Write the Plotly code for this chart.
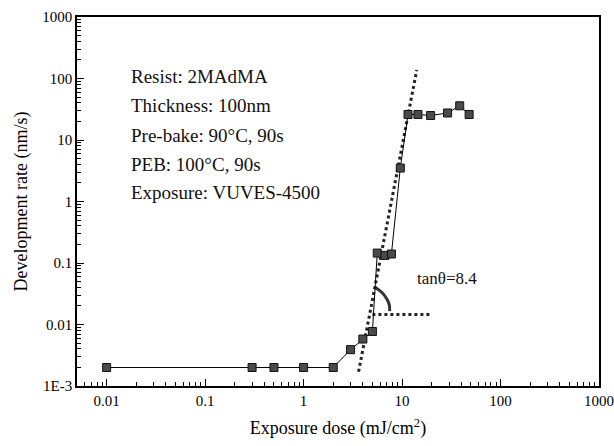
import numpy as np
import plotly.graph_objects as go

# Measured data: exposure dose (mJ/cm^2) vs development rate (nm/s)
dose = [0.01, 0.3, 0.5, 1, 2, 3, 4, 5, 5.6, 6.7, 7.8, 9.6, 11.5, 14.5, 19.5, 29, 38.5, 48]
rate = [0.002, 0.002, 0.002, 0.002, 0.002, 0.0039, 0.0058, 0.0077, 0.145, 0.133, 0.14, 3.5, 26, 26, 25, 27.5, 36, 26]

# Slope (contrast) guide lines
slope_x = [3.62, 14.1]
slope_y = [0.00171, 137]
base_x = [5.0, 20.0]
base_y = [0.0145, 0.0145]
arc_x = [5.31, 6.35, 7.03, 7.43, 7.48]
arc_y = [0.0403, 0.0322, 0.0257, 0.0207, 0.0165]

info_lines = ["Resist: 2MAdMA", "Thickness: 100nm", "Pre-bake: 90°C, 90s",
              "PEB: 100°C, 90s", "Exposure: VUVES-4500"]
info_y = [0.838, 0.759, 0.680, 0.601, 0.524]

x_tickvals = [0.01, 0.1, 1, 10, 100, 1000]
x_ticktext = ["0.01", "0.1", "1", "10", "100", "1000"]
y_tickvals = [0.001, 0.01, 0.1, 1, 10, 100, 1000]
y_ticktext = ["1E-3", "0.01", "0.1", "1", "10", "100", "1000"]

FONT = "Liberation Serif"

fig = go.Figure()
fig.add_trace(go.Scatter(x=slope_x, y=slope_y, mode="lines",
                         line=dict(color="#222", width=3, dash="3px,3px"), hoverinfo="skip"))
fig.add_trace(go.Scatter(x=base_x, y=base_y, mode="lines",
                         line=dict(color="#222", width=3, dash="3px,3px"), hoverinfo="skip"))
fig.add_trace(go.Scatter(x=arc_x, y=arc_y, mode="lines", line_shape="spline",
                         line=dict(color="#333", width=3), hoverinfo="skip"))
fig.add_trace(go.Scatter(x=dose, y=rate, mode="lines+markers",
                         line=dict(color="black", width=1),
                         marker=dict(symbol="square", size=8, color="#4a4a4a",
                                     line=dict(color="#111", width=1))))

minor_x = [m * 10.0 ** d for d in range(-3, 3) for m in range(2, 10)]
minor_y = [m * 10.0 ** d for d in range(-3, 3) for m in range(2, 10)]

fig.update_xaxes(type="log", range=[np.log10(0.005), 3], automargin=False,
                 tickmode="array", tickvals=x_tickvals, ticktext=x_ticktext,
                 ticks="inside", ticklen=7, tickwidth=1.2, tickcolor="black",
                 minor=dict(ticks="inside", ticklen=4, tickwidth=1, tickcolor="black",
                            tickmode="array", tickvals=minor_x),
                 showline=True, linecolor="black", linewidth=1.5, mirror=True,
                 showgrid=False, zeroline=False,
                 tickfont=dict(family=FONT, size=15, color="black"),
                 title=dict(text="Exposure dose (mJ/cm<sup>2</sup>)",
                            font=dict(family=FONT, size=18, color="black"), standoff=14))
fig.update_yaxes(type="log", range=[-3, 3], automargin=False,
                 tickmode="array", tickvals=y_tickvals, ticktext=y_ticktext,
                 ticks="inside", ticklen=7, tickwidth=1.2, tickcolor="black",
                 minor=dict(ticks="inside", ticklen=4, tickwidth=1, tickcolor="black",
                            tickmode="array", tickvals=minor_y),
                 showline=True, linecolor="black", linewidth=1.5, mirror=True,
                 showgrid=False, zeroline=False,
                 tickfont=dict(family=FONT, size=15, color="black"),
                 title=dict(text="Development rate (nm/s)",
                            font=dict(family=FONT, size=18, color="black"), standoff=10))

for txt, yy in zip(info_lines, info_y):
    fig.add_annotation(text=txt, xref="paper", yref="paper", x=0.0996, y=yy,
                       xanchor="left", yanchor="middle", showarrow=False,
                       font=dict(family=FONT, size=19, color="#111"))
fig.add_annotation(text="tanθ=8.4", x=np.log10(13.6), y=np.log10(0.057),
                   xanchor="left", yanchor="middle", showarrow=False,
                   font=dict(family=FONT, size=17, color="#111"))

fig.update_layout(width=614, height=446, margin=dict(l=77, r=15, t=17, b=60),
                  paper_bgcolor="white", plot_bgcolor="white", showlegend=False)
fig.write_html("out.html")
